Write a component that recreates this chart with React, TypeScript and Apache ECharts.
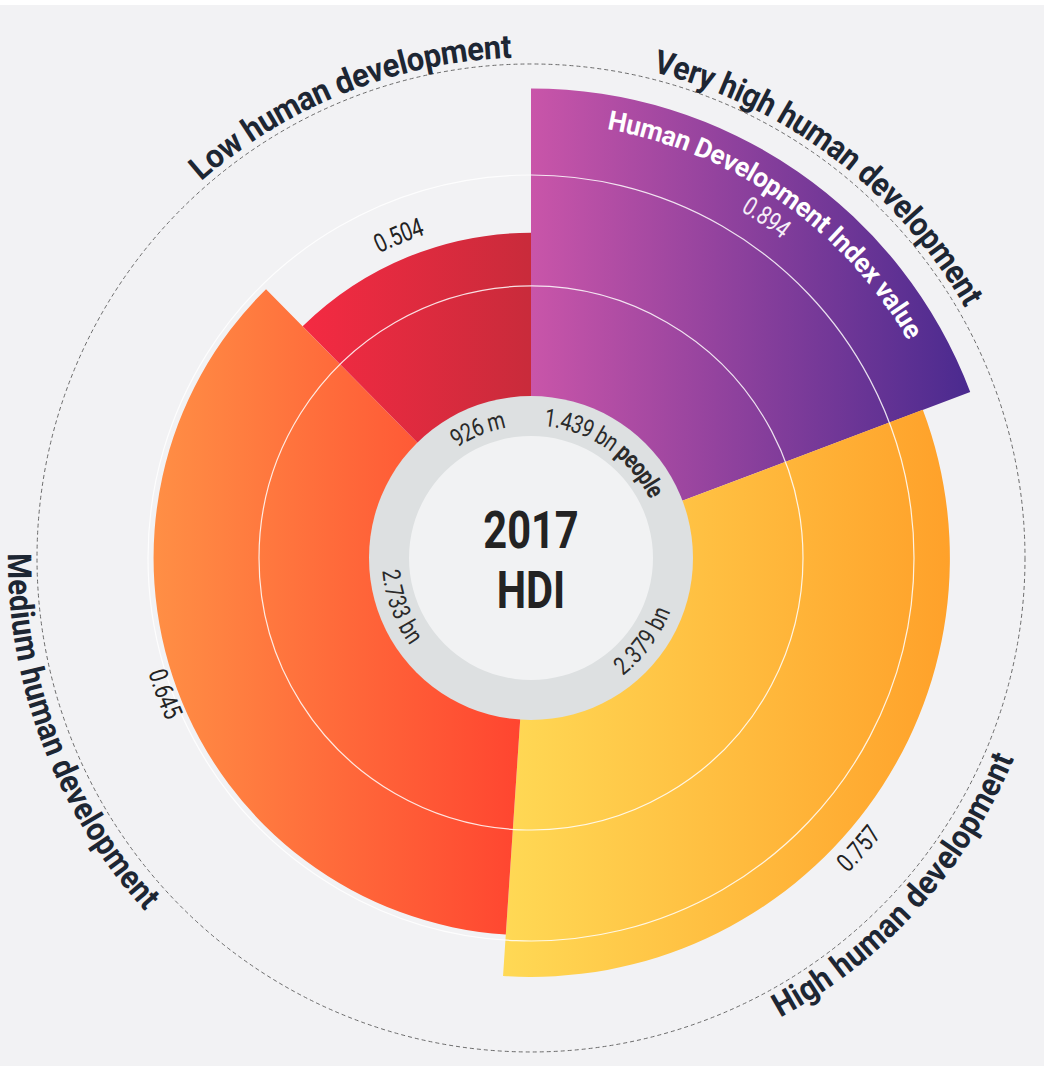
import React, { useEffect, useRef } from "react";
import * as echarts from "echarts";

// ---------------- data ----------------
const CATEGORIES = [
  "Very high human development",
  "High human development",
  "Medium human development",
  "Low human development",
];
const HDI_VALUES = [0.894, 0.757, 0.645, 0.504];
const POPULATION_BN = [1.439, 2.379, 2.733, 0.926];
const POPULATION_LABELS = ["1.439 bn", "2.379 bn", "2.733 bn", "926 m"];
const POPULATION_UNIT = "people";
const AXIS_TITLE = "Human Development Index value";
const CENTER_TITLE = ["2017", "HDI"];
const RADIUS_MIN = 0.06;
const RADIUS_MAX = 0.96;
const GRID_LEVELS = [0.36, 0.66];

// ---------------- style ----------------
const GRAD_LEFT = ["#c955a9", "#ffd955", "#ff8f45", "#f42a42"];
const GRAD_RIGHT = ["#4a2a8f", "#ffa12a", "#ff4530", "#c92b3b"];
const BG = "#f2f2f4";
const FAMILY = "Roboto, 'Noto Sans', 'DejaVu Sans', sans-serif";

// ---------------- layout ----------------
const W = 1044;
const H = 1066;
const CX = 531;
const CY = 558;
const R_IN = 161;
const R_OUT = 494;
const CAT_R = 512;
const CAT_SPAN = [46, 39, 43, 39];
const CAT_SHIFT = [2.4, 5.5, -0.6, 0.6];
const VAL_DR = [-55, 19, 13, 24];
const VAL_SHIFT = [0, 5, 0, 0];
const RING_R = 141;

type Seg = { text: string; weight: string };

export default function App() {
  const ref = useRef<HTMLDivElement>(null);

  useEffect(() => {
    if (!ref.current) return;
    const chart = echarts.init(ref.current, null, { renderer: "svg" });

    const starts: number[] = [];
    let acc = 0;
    POPULATION_BN.forEach((p) => {
      starts.push(acc);
      acc += p;
    });
    const TOTAL = acc;
    const sliceData = POPULATION_BN.map((p, i) => [starts[i], starts[i] + p, HDI_VALUES[i]]);

    const renderSlice = (params: any, api: any) => {
      const i = params.dataIndex;
      const cs = params.coordSys;
      const s = api.value(0);
      const e = api.value(1);
      const v = api.value(2);
      const pIn = api.coord([RADIUS_MIN, s]);
      const pA = api.coord([v, s]);
      const pB = api.coord([v, e]);
      const r0 = Math.hypot(pIn[0] - cs.cx, pIn[1] - cs.cy);
      const r = Math.hypot(pA[0] - cs.cx, pA[1] - cs.cy);
      const a0 = Math.atan2(pA[1] - cs.cy, pA[0] - cs.cx);
      let a1 = Math.atan2(pB[1] - cs.cy, pB[0] - cs.cx);
      if (a1 <= a0) a1 += Math.PI * 2;
      return {
        type: "sector",
        shape: { cx: cs.cx, cy: cs.cy, r0, r, startAngle: a0, endAngle: a1, clockwise: true },
        style: {
          fill: new echarts.graphic.LinearGradient(0, 0, 1, 0, [
            { offset: 0, color: GRAD_LEFT[i] },
            { offset: 1, color: GRAD_RIGHT[i] },
          ]),
        },
      };
    };

    const renderGrid = (params: any, api: any) => {
      const cs = params.coordSys;
      const p = api.coord([api.value(0), 0]);
      const r = Math.hypot(p[0] - cs.cx, p[1] - cs.cy);
      return {
        type: "circle",
        shape: { cx: cs.cx, cy: cs.cy, r },
        style: { fill: "transparent", stroke: "rgba(255,255,255,0.85)", lineWidth: 1.2 },
      };
    };

    chart.setOption({
      animation: false,
      backgroundColor: BG,
      polar: { center: [CX, CY], radius: [R_IN, R_OUT] },
      angleAxis: {
        type: "value",
        min: 0,
        max: TOTAL,
        startAngle: 90,
        clockwise: true,
        axisLine: { show: true, lineStyle: { color: "#6b6b6b", width: 1, type: [4, 3] } },
        axisTick: { show: false },
        axisLabel: { show: false },
        splitLine: { show: false },
      },
      radiusAxis: {
        type: "value",
        min: RADIUS_MIN,
        max: RADIUS_MAX,
        axisLine: { show: false },
        axisTick: { show: false },
        axisLabel: { show: false },
        splitLine: { show: false },
      },
      series: [
        { type: "custom", coordinateSystem: "polar", data: sliceData, renderItem: renderSlice, z: 2, silent: true },
        {
          type: "custom",
          coordinateSystem: "polar",
          data: GRID_LEVELS.map((g) => [g, 0]),
          renderItem: renderGrid,
          z: 3,
          silent: true,
        },
      ],
    });

    // ---- labels, placed through the polar coordinate system ----
    const toPolar = (v: number, pop: number) => {
      const p = chart.convertToPixel({ seriesIndex: 0 }, [v, pop]) as any;
      const dx = p[0] - CX;
      const dy = p[1] - CY;
      return { r: Math.hypot(dx, dy), deg: (Math.atan2(dx, -dy) * 180) / Math.PI };
    };

    const ctx = document.createElement("canvas").getContext("2d") as CanvasRenderingContext2D;
    const arcText = (
      segs: Seg[],
      centerDeg: number,
      r: number,
      size: number,
      color: string,
      opts: { sx?: number; span?: number; z?: number }
    ) => {
      const chars: { ch: string; font: string; w: number }[] = [];
      segs.forEach((seg) => {
        const font = `${seg.weight} ${size}px ${FAMILY}`;
        ctx.font = font;
        for (const ch of seg.text) chars.push({ ch, font, w: ctx.measureText(ch).width });
      });
      const natural = chars.reduce((a, c) => a + c.w, 0);
      const sx = opts.span ? ((opts.span * Math.PI) / 180) * r / natural : opts.sx || 1;
      const total = natural * sx;
      const c = (centerDeg * Math.PI) / 180;
      const norm = ((centerDeg % 360) + 360) % 360;
      const bottom = norm > 90 && norm < 270;
      const half = total / 2 / r;
      let cum = 0;
      return chars.map(({ ch, font, w }) => {
        const ws = w * sx;
        const off = (cum + ws / 2) / r;
        cum += ws;
        const a = bottom ? c + half - off : c - half + off;
        return {
          type: "text",
          x: CX + r * Math.sin(a),
          y: CY - r * Math.cos(a),
          rotation: bottom ? Math.PI - a : -a,
          scaleX: sx,
          z: opts.z ?? 12,
          silent: true,
          style: { text: ch, font, fill: color, textAlign: "center", textVerticalAlign: "middle" },
        };
      });
    };

    const elements: any[] = [];
    elements.push({ type: "circle", shape: { cx: CX, cy: CY, r: R_IN + 1 }, style: { fill: "#dde0e1" }, z: 10, silent: true });
    elements.push({ type: "circle", shape: { cx: CX, cy: CY, r: 122 }, style: { fill: "#f1f2f3" }, z: 10, silent: true });

    POPULATION_BN.forEach((p, i) => {
      const mid = starts[i] + p / 2;
      const pv = toPolar(HDI_VALUES[i], mid);
      // category label
      elements.push(
        ...arcText([{ text: CATEGORIES[i], weight: "bold" }], pv.deg + CAT_SHIFT[i], CAT_R, 33, "#1d2633", {
          span: CAT_SPAN[i],
        })
      );
      // HDI value label
      const inside = VAL_DR[i] < 0;
      elements.push(
        ...arcText(
          [{ text: HDI_VALUES[i].toFixed(3), weight: "normal" }],
          pv.deg + VAL_SHIFT[i],
          pv.r + VAL_DR[i],
          26,
          inside ? "#f6eef8" : "#222222",
          { sx: 0.78 }
        )
      );
      // population label on the ring
      const segs: Seg[] = [{ text: POPULATION_LABELS[i], weight: "normal" }];
      if (i === 0) {
        segs.push({ text: " ", weight: "normal" });
        segs.push({ text: POPULATION_UNIT, weight: "bold" });
      }
      elements.push(...arcText(segs, pv.deg, RING_R, 25, "#2a2a2a", { sx: 0.8 }));
      if (i === 0) {
        elements.push(
          ...arcText([{ text: AXIS_TITLE, weight: "bold" }], pv.deg + 0.4, pv.r - 25, 27, "#ffffff", { span: 50 })
        );
      }
    });

    elements.push({
      type: "text",
      x: CX,
      y: CY - 28,
      scaleX: 0.8,
      z: 12,
      silent: true,
      style: { text: CENTER_TITLE[0], font: `bold 52px ${FAMILY}`, fill: "#232323", textAlign: "center", textVerticalAlign: "middle" },
    });
    elements.push({
      type: "text",
      x: CX,
      y: CY + 32,
      scaleX: 0.8,
      z: 12,
      silent: true,
      style: { text: CENTER_TITLE[1], font: `bold 52px ${FAMILY}`, fill: "#232323", textAlign: "center", textVerticalAlign: "middle" },
    });
    elements.push({ type: "rect", shape: { x: 0, y: 0, width: W, height: 5 }, style: { fill: "#ffffff" }, z: 20, silent: true });

    chart.setOption({ graphic: { elements } });

    return () => chart.dispose();
  }, []);

  return <div ref={ref} style={{ position: "absolute", left: 0, top: 0, width: W, height: H }} />;
}
